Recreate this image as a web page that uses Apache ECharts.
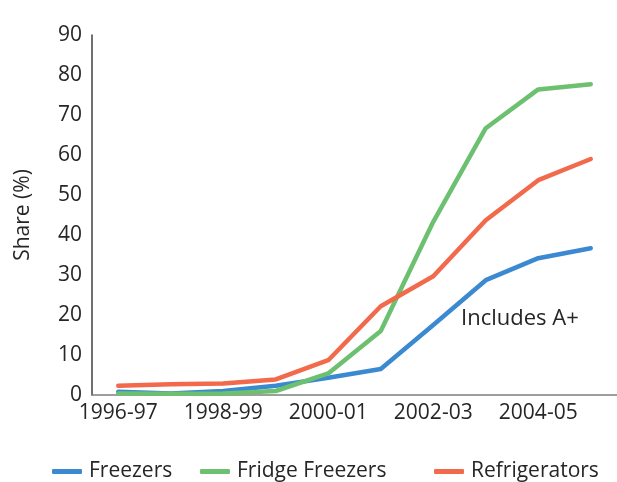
<!DOCTYPE html>
<html>
<head>
<meta charset="utf-8">
<script src="https://cdn.jsdelivr.net/npm/echarts@6/dist/echarts.min.js"></script>
<style>html,body{margin:0;padding:0;background:#fff}#c{width:617px;height:482px}</style>
</head>
<body>
<div id="c"></div>
<script>
const categories = ['1996-97','1997-98','1998-99','1999-00','2000-01','2001-02','2002-03','2003-04','2004-05','2005-06'];
const freezers = [0.8, 0.4, 1.0, 2.3, 4.3, 6.5, 17.5, 28.7, 34.2, 36.7];
const fridgeFreezers = [0.4, 0.3, 0.4, 1.0, 5.4, 16.0, 43.3, 66.7, 76.4, 77.7];
const refrigerators = [2.3, 2.7, 2.9, 3.9, 8.7, 22.2, 29.7, 43.7, 53.7, 59.0];
const yTicks = [0, 90, 10];
const annotation = 'Includes A+';

const FONT = '"Open Sans", sans-serif';
const TXT = '#262626';
const chart = echarts.init(document.getElementById('c'), null, {renderer: 'canvas'});
const colors = ['#3b89d0', '#6cc070', '#f2694b'];
const names = ['Freezers', 'Fridge Freezers', 'Refrigerators'];
const values = [freezers, fridgeFreezers, refrigerators];
const legendLefts = [47, 195, 429];

chart.setOption({
  animation: false,
  grid: {left: 92, right: -7, top: 35, bottom: 87, containLabel: false},
  legend: names.map((n, i) => ({
    data: [n], left: legendLefts[i], top: 456, itemWidth: 30, itemHeight: 5, itemGap: 8,
    icon: 'roundRect',
    textStyle: {fontFamily: FONT, fontSize: 21, color: TXT, padding: [0,0,0,2]}
  })),
  xAxis: {
    type: 'category', data: categories, boundaryGap: true,
    axisLine: {lineStyle: {color: '#7f7f7f', width: 1.5}},
    axisTick: {show: false},
    axisLabel: {interval: 1, fontFamily: FONT, fontSize: 21, color: TXT, margin: 8}
  },
  yAxis: {
    type: 'value', min: yTicks[0], max: yTicks[1], interval: yTicks[2],
    name: 'Share (%)', nameLocation: 'middle', nameGap: 58, nameRotate: 90,
    nameTextStyle: {fontFamily: FONT, fontSize: 21, color: TXT},
    axisLine: {show: true, lineStyle: {color: '#404040', width: 1.5}},
    axisTick: {show: false},
    splitLine: {show: false},
    axisLabel: {fontFamily: FONT, fontSize: 21, color: TXT, margin: 10, padding: [0,0,14,0]}
  },
  graphic: [{
    type: 'text', left: 461, top: 308,
    style: {text: annotation, fontFamily: FONT, fontSize: 22, fill: TXT}
  }],
  series: names.map((n, i) => ({
    name: n, type: 'line', data: values[i], color: colors[i],
    symbol: 'none', smooth: false,
    lineStyle: {width: 4.5, color: colors[i], cap: 'round', join: 'round'}
  }))
});
</script>
</body>
</html>
